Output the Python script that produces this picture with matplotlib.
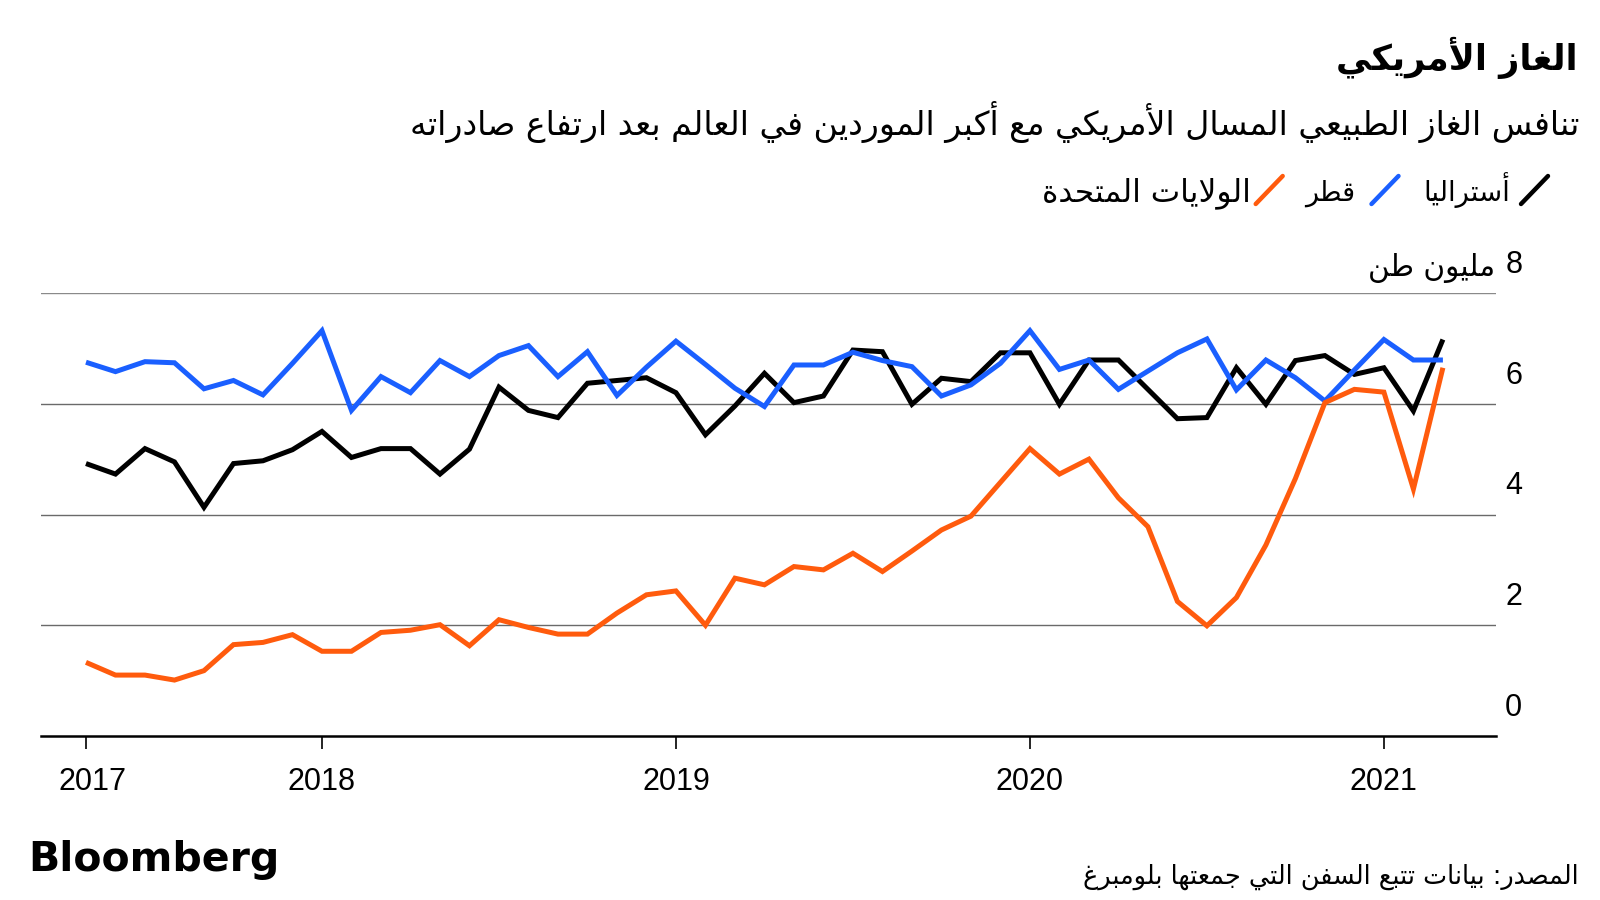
import re
import matplotlib
matplotlib.use("Agg")
import matplotlib.pyplot as plt
from matplotlib.lines import Line2D
import matplotlib.transforms as mtransforms
import pandas as pd

# ---------------- data ----------------
months = pd.period_range("2017-05", "2021-03", freq="M")

australia = [4.92, 4.73, 5.19, 4.95, 4.13, 4.92, 4.97, 5.17, 5.50, 5.03, 5.19, 5.19,
             4.73, 5.18, 6.30, 5.88, 5.75, 6.37, 6.42, 6.47, 6.20, 5.44, 5.96, 6.55,
             6.02, 6.14, 6.97, 6.94, 5.99, 6.46, 6.40, 6.92, 6.92, 5.99, 6.79, 6.79,
             6.26, 5.73, 5.75, 6.65, 5.99, 6.78, 6.87, 6.53, 6.65, 5.87, 7.16]

qatar = [6.75, 6.58, 6.76, 6.74, 6.27, 6.42, 6.16, 6.73, 7.32, 5.88, 6.49, 6.20,
         6.78, 6.49, 6.87, 7.05, 6.49, 6.94, 6.15, 6.66, 7.13, 6.71, 6.28, 5.95,
         6.70, 6.70, 6.93, 6.78, 6.67, 6.14, 6.34, 6.73, 7.32, 6.62, 6.79, 6.26,
         6.59, 6.92, 7.17, 6.25, 6.79, 6.47, 6.05, 6.61, 7.16, 6.79, 6.79]

usa = [1.33, 1.10, 1.10, 1.01, 1.18, 1.65, 1.69, 1.83, 1.53, 1.53, 1.87, 1.91,
       2.01, 1.63, 2.10, 1.96, 1.84, 1.84, 2.22, 2.55, 2.62, 2.00, 2.85, 2.73,
       3.06, 3.00, 3.30, 2.97, 3.34, 3.72, 3.97, 4.58, 5.19, 4.73, 5.00, 4.30,
       3.78, 2.43, 1.99, 2.50, 3.45, 4.65, 6.02, 6.26, 6.21, 4.46, 6.65]

series_names = ["أستراليا", "قطر", "الولايات المتحدة"]
series_colors = ["#000000", "#1a5fff", "#ff5b0d"]

year_ticks = ["2017-05", "2018-01", "2019-01", "2020-01", "2021-01"]
year_labels = ["2017", "2018", "2019", "2020", "2021"]
y_ticks = [0, 2, 4, 6, 8]
y_unit = "مليون طن"

title = "الغاز الأمريكي"
subtitle = "تنافس الغاز الطبيعي المسال الأمريكي مع أكبر الموردين في العالم بعد ارتفاع صادراته"
source = "المصدر: بيانات تتبع السفن التي جمعتها بلومبرغ"

# ---------------- Arabic shaping (no shaping engine in matplotlib) ----------------
FORMS = {
    'ء': ('\uFE80', None, None, None),
    'آ': ('\uFE81', '\uFE82', None, None),
    'أ': ('\uFE83', '\uFE84', None, None),
    'ؤ': ('\uFE85', '\uFE86', None, None),
    'إ': ('\uFE87', '\uFE88', None, None),
    'ئ': ('\uFE89', '\uFE8A', '\uFE8B', '\uFE8C'),
    'ا': ('\uFE8D', '\uFE8E', None, None),
    'ب': ('\uFE8F', '\uFE90', '\uFE91', '\uFE92'),
    'ة': ('\uFE93', '\uFE94', None, None),
    'ت': ('\uFE95', '\uFE96', '\uFE97', '\uFE98'),
    'ث': ('\uFE99', '\uFE9A', '\uFE9B', '\uFE9C'),
    'ج': ('\uFE9D', '\uFE9E', '\uFE9F', '\uFEA0'),
    'ح': ('\uFEA1', '\uFEA2', '\uFEA3', '\uFEA4'),
    'خ': ('\uFEA5', '\uFEA6', '\uFEA7', '\uFEA8'),
    'د': ('\uFEA9', '\uFEAA', None, None),
    'ذ': ('\uFEAB', '\uFEAC', None, None),
    'ر': ('\uFEAD', '\uFEAE', None, None),
    'ز': ('\uFEAF', '\uFEB0', None, None),
    'س': ('\uFEB1', '\uFEB2', '\uFEB3', '\uFEB4'),
    'ش': ('\uFEB5', '\uFEB6', '\uFEB7', '\uFEB8'),
    'ص': ('\uFEB9', '\uFEBA', '\uFEBB', '\uFEBC'),
    'ض': ('\uFEBD', '\uFEBE', '\uFEBF', '\uFEC0'),
    'ط': ('\uFEC1', '\uFEC2', '\uFEC3', '\uFEC4'),
    'ظ': ('\uFEC5', '\uFEC6', '\uFEC7', '\uFEC8'),
    'ع': ('\uFEC9', '\uFECA', '\uFECB', '\uFECC'),
    'غ': ('\uFECD', '\uFECE', '\uFECF', '\uFED0'),
    'ف': ('\uFED1', '\uFED2', '\uFED3', '\uFED4'),
    'ق': ('\uFED5', '\uFED6', '\uFED7', '\uFED8'),
    'ك': ('\uFED9', '\uFEDA', '\uFEDB', '\uFEDC'),
    'ل': ('\uFEDD', '\uFEDE', '\uFEDF', '\uFEE0'),
    'م': ('\uFEE1', '\uFEE2', '\uFEE3', '\uFEE4'),
    'ن': ('\uFEE5', '\uFEE6', '\uFEE7', '\uFEE8'),
    'ه': ('\uFEE9', '\uFEEA', '\uFEEB', '\uFEEC'),
    'و': ('\uFEED', '\uFEEE', None, None),
    'ى': ('\uFEEF', '\uFEF0', None, None),
    'ي': ('\uFEF1', '\uFEF2', '\uFEF3', '\uFEF4'),
}
LAM_ALEF = {'آ': ('\uFEF5', '\uFEF6'), 'أ': ('\uFEF7', '\uFEF8'),
            'إ': ('\uFEF9', '\uFEFA'), 'ا': ('\uFEFB', '\uFEFC')}


def ar(text):
    toks, i = [], 0
    while i < len(text):
        c = text[i]
        if c == 'ل' and i + 1 < len(text) and text[i + 1] in LAM_ALEF:
            toks.append(('LA', text[i + 1]))
            i += 2
        else:
            toks.append(('C', c))
            i += 1

    def fwd(t):
        if t[0] == 'LA':
            return False
        f = FORMS.get(t[1])
        return f is not None and f[2] is not None

    def bwd(t):
        if t[0] == 'LA':
            return True
        f = FORMS.get(t[1])
        return f is not None and f[1] is not None

    out = []
    for j, t in enumerate(toks):
        p = toks[j - 1] if j > 0 else None
        n = toks[j + 1] if j + 1 < len(toks) else None
        jp = p is not None and fwd(p) and bwd(t)
        jn = n is not None and fwd(t) and bwd(n)
        if t[0] == 'LA':
            iso, fin = LAM_ALEF[t[1]]
            out.append(fin if jp else iso)
        elif t[1] in FORMS:
            f = FORMS[t[1]]
            out.append(f[3] if (jp and jn) else f[1] if jp else f[2] if jn else f[0])
        else:
            out.append(t[1])
    s = ''.join(out)
    segs = re.findall(r'[0-9A-Za-z]+|.', s)
    return ''.join(reversed(segs))


# ---------------- figure ----------------
plt.rcParams['font.family'] = ['DejaVu Sans']
W, H = 1600, 900
fig = plt.figure(figsize=(16, 9), dpi=100)
fig.patch.set_facecolor("white")


def fx(px):
    return px / W


def fy(py):
    return 1 - py / H


ax = fig.add_axes([fx(41), fy(736), fx(1496) - fx(41), fy(293) - fy(736)])
x = list(range(len(months)))
for vals, col in zip([australia, qatar, usa], series_colors):
    ax.plot(x, vals, color=col, lw=3.6, solid_joinstyle='miter', solid_capstyle='butt', zorder=3)

ax.set_xlim(-1.525, 47.8)
ax.set_ylim(0, 8)
for s in ['top', 'right', 'left']:
    ax.spines[s].set_visible(False)
ax.spines['bottom'].set_linewidth(1.8)
ax.spines['bottom'].set_color('#000000')
ax.set_yticks([])
for v in y_ticks[1:]:
    ax.axhline(v, color='#6a6a6a' if v < 8 else '#8a8a8a', lw=1.0, zorder=1)

month_str = [str(m) for m in months]
ax.set_xticks([month_str.index(t) for t in year_ticks])
ax.set_xticklabels(year_labels, fontsize=22, fontfamily=['Liberation Sans', 'DejaVu Sans'])
ax.tick_params(axis='x', length=9, width=1.2, color='#000000', pad=13)
first = ax.get_xticklabels()[0]
first.set_transform(first.get_transform() + mtransforms.ScaledTranslation(7 / 100, 0, fig.dpi_scale_trans))

# y labels (right side, above gridlines)
ylab_tr = mtransforms.offset_copy(ax.get_yaxis_transform(), fig=fig, x=0, y=20, units='dots')
for v in y_ticks:
    ax.text(1.0063, v, str(v), transform=ylab_tr, ha='left', va='baseline', fontsize=22,
            fontfamily=['Liberation Sans', 'DejaVu Sans'], color='#000000')

renderer = fig.canvas.get_renderer()


def fit_text(xp, yp, txt, target_w, base=20, **kw):
    t = fig.text(fx(xp), fy(yp), txt, fontsize=base, **kw)
    w = t.get_window_extent(renderer).width
    t.set_fontsize(base * target_w / w)
    return t


fit_text(1495, 276, ar(y_unit), 127, ha='right', va='baseline')
fit_text(1578, 70, ar(title), 241, ha='right', va='baseline', fontweight='bold')
fit_text(1579, 135, ar(subtitle), 1168, ha='right', va='baseline')
fit_text(1579, 884, ar(source), 497, ha='right', va='baseline')

# legend
leg_right = [1510, 1355, 1251]
leg_w = [87, 50, 209]
slash_x = [1521, 1371.5, 1255.7]
for name, col, xr, w, sx in zip(series_names, series_colors, leg_right, leg_w, slash_x):
    fit_text(xr, 201, ar(name), w, ha='right', va='baseline')
    fig.add_artist(Line2D([fx(sx), fx(sx + 27)], [fy(204), fy(176)], color=col, lw=3.2,
                          solid_capstyle='round', transform=fig.transFigure))

# Bloomberg wordmark
fig.text(fx(28), fy(871), "Bloomberg", fontsize=29.5, fontweight='bold', ha='left', va='baseline',
         color='#000000')

fig.savefig("out.png", dpi=100)
